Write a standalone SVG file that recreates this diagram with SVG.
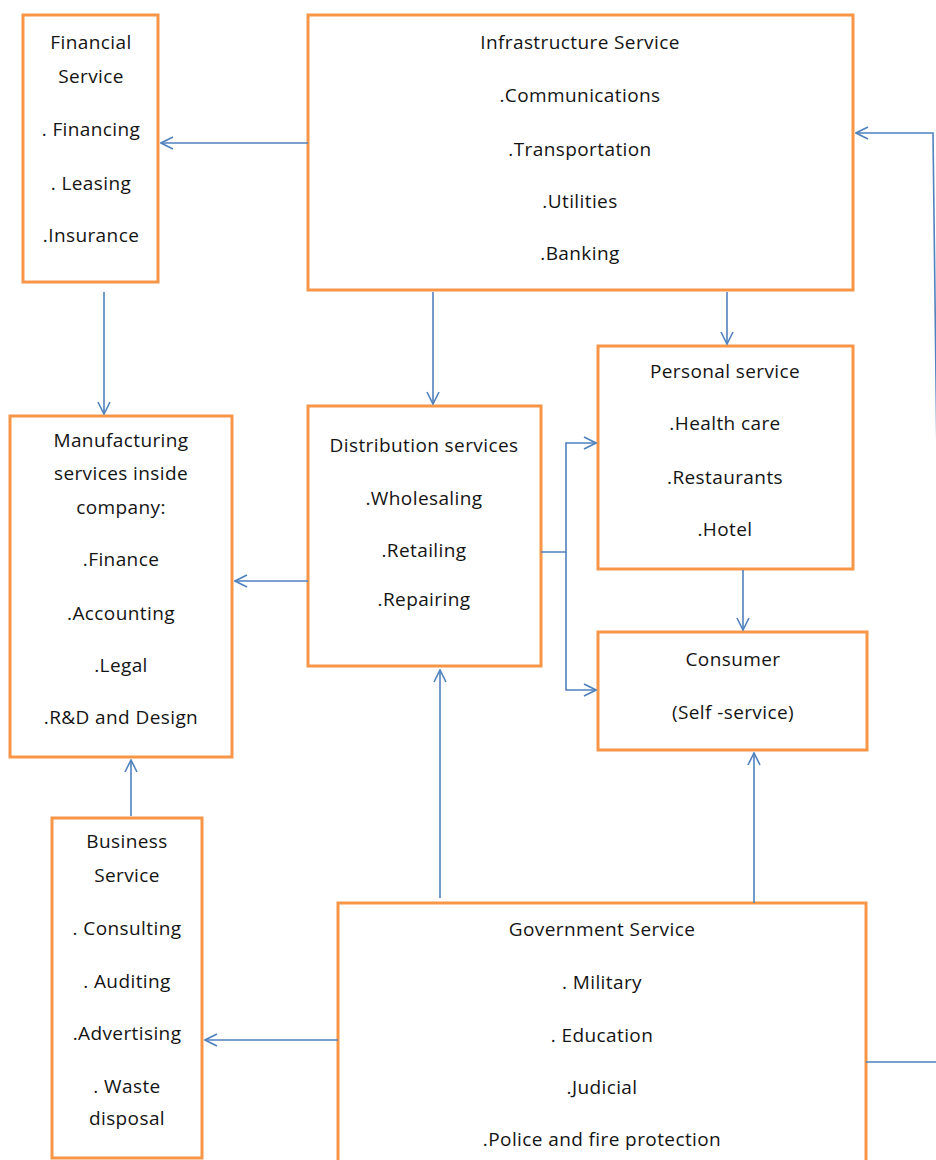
<svg xmlns="http://www.w3.org/2000/svg" width="936" height="1160" viewBox="0 0 936 1160">
  <defs>
    <style>
      .box { fill: #ffffff; stroke: #F79646; stroke-width: 3; }
      .lbl { font-family: "Open Sans", "Liberation Sans", sans-serif; font-size: 19px; letter-spacing: 0.4px; fill: #141414; text-anchor: middle; }
      .link { fill: none; stroke: #4F81BD; stroke-width: 1.6; }
      .arrow { marker-end: url(#open); }
    </style>
    <marker id="open" viewBox="0 0 14 14" refX="13" refY="7" markerWidth="14" markerHeight="14" markerUnits="userSpaceOnUse" orient="auto">
      <path d="M1,1 L13,7 L1,13" fill="none" stroke="#4F81BD" stroke-width="1.6"/>
    </marker>
  </defs>
  <rect width="936" height="1160" fill="#ffffff"/>

  <g id="financial">
    <rect class="box" x="23" y="15" width="135" height="267"/>
    <text class="lbl" x="91" y="49">Financial</text>
    <text class="lbl" x="91" y="83">Service</text>
    <text class="lbl" x="91" y="136">. Financing</text>
    <text class="lbl" x="91" y="190">. Leasing</text>
    <text class="lbl" x="91" y="242">.Insurance</text>
  </g>

  <g id="infrastructure">
    <rect class="box" x="308" y="15" width="545" height="275"/>
    <text class="lbl" x="580" y="49">Infrastructure Service</text>
    <text class="lbl" x="580" y="102">.Communications</text>
    <text class="lbl" x="580" y="156">.Transportation</text>
    <text class="lbl" x="580" y="208">.Utilities</text>
    <text class="lbl" x="580" y="260">.Banking</text>
  </g>

  <g id="manufacturing">
    <rect class="box" x="10" y="416" width="222" height="341"/>
    <text class="lbl" x="121" y="447">Manufacturing</text>
    <text class="lbl" x="121" y="480">services inside</text>
    <text class="lbl" x="121" y="514">company:</text>
    <text class="lbl" x="121" y="566">.Finance</text>
    <text class="lbl" x="121" y="620">.Accounting</text>
    <text class="lbl" x="121" y="672">.Legal</text>
    <text class="lbl" x="121" y="724">.R&amp;D and Design</text>
  </g>

  <g id="distribution">
    <rect class="box" x="308" y="406" width="233" height="260"/>
    <text class="lbl" x="424" y="452">Distribution services</text>
    <text class="lbl" x="424" y="505">.Wholesaling</text>
    <text class="lbl" x="424" y="557">.Retailing</text>
    <text class="lbl" x="424" y="606">.Repairing</text>
  </g>

  <g id="personal">
    <rect class="box" x="598" y="346" width="255" height="223"/>
    <text class="lbl" x="725" y="378">Personal service</text>
    <text class="lbl" x="725" y="430">.Health care</text>
    <text class="lbl" x="725" y="484">.Restaurants</text>
    <text class="lbl" x="725" y="536">.Hotel</text>
  </g>

  <g id="consumer">
    <rect class="box" x="598" y="632" width="269" height="118"/>
    <text class="lbl" x="733" y="666">Consumer</text>
    <text class="lbl" x="733" y="719">(Self -service)</text>
  </g>

  <g id="business">
    <rect class="box" x="52" y="818" width="150" height="340"/>
    <text class="lbl" x="127" y="848">Business</text>
    <text class="lbl" x="127" y="882">Service</text>
    <text class="lbl" x="127" y="935">. Consulting</text>
    <text class="lbl" x="127" y="988">. Auditing</text>
    <text class="lbl" x="127" y="1040">.Advertising</text>
    <text class="lbl" x="127" y="1093">. Waste</text>
    <text class="lbl" x="127" y="1125">disposal</text>
  </g>

  <g id="government">
    <rect class="box" x="338" y="903" width="528" height="280"/>
    <text class="lbl" x="602" y="936">Government Service</text>
    <text class="lbl" x="602" y="989">. Military</text>
    <text class="lbl" x="602" y="1042">. Education</text>
    <text class="lbl" x="602" y="1094">.Judicial</text>
    <text class="lbl" x="602" y="1146">.Police and fire protection</text>
  </g>

  <g id="connectors">
    <path class="link arrow" d="M308,143 H161"/>
    <path class="link arrow" d="M104,292 V414"/>
    <path class="link arrow" d="M433,292 V404"/>
    <path class="link arrow" d="M727,292 V344"/>
    <path class="link arrow" d="M308,581 H235"/>
    <path class="link arrow" d="M541,552 H566 V443 H596"/>
    <path class="link arrow" d="M566,552 V690 H596"/>
    <path class="link arrow" d="M743,570 V630"/>
    <path class="link arrow" d="M440,898 V670"/>
    <path class="link arrow" d="M754,903 V753"/>
    <path class="link arrow" d="M131,816 V760"/>
    <path class="link arrow" d="M338,1040 H205"/>
    <path class="link arrow" d="M866,1062 H945 L936,380 L933,133 H856"/>
  </g>
</svg>
